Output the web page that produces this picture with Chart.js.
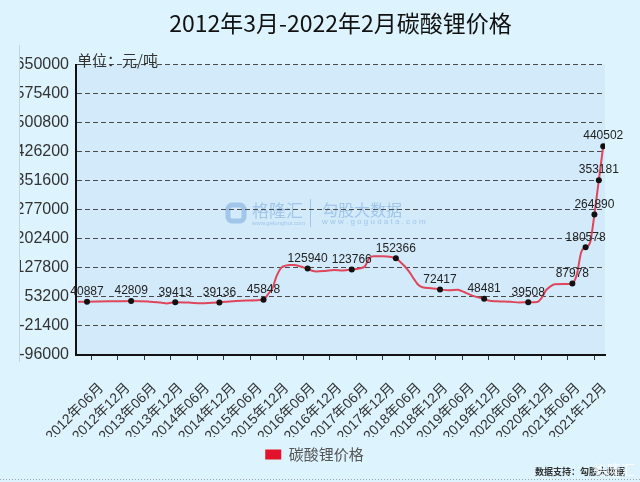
<!DOCTYPE html>
<html lang="zh-CN">
<head>
<meta charset="UTF-8">
<title>2012年3月-2022年2月碳酸锂价格</title>
<script src="https://cdn.jsdelivr.net/npm/chart.js"></script>
<style>
  body { margin: 0; background: #ddf3fd; }
  canvas { display: block; }
</style>
</head>
<body>
<canvas id="priceChart" width="640" height="482"></canvas>
<script>
    // monthly price points (元/吨)
    const months = [
        '2012-03', '2012-05', '2012-10', '2013-03', '2013-07', '2013-10', '2013-11', '2014-01',
        '2014-04', '2014-07', '2014-11', '2015-02', '2015-05', '2015-09', '2015-10', '2015-11',
        '2015-12', '2016-01', '2016-02', '2016-03', '2016-04', '2016-05', '2016-06', '2016-07',
        '2016-08', '2016-09', '2016-11', '2017-01', '2017-03', '2017-05', '2017-07', '2017-08',
        '2017-09', '2017-10', '2017-12', '2018-02', '2018-03', '2018-04', '2018-05', '2018-06',
        '2018-07', '2018-08', '2018-09', '2018-11', '2019-01', '2019-03', '2019-05', '2019-06',
        '2019-07', '2019-09', '2019-11', '2019-12', '2020-02', '2020-05', '2020-07', '2020-09',
        '2020-11', '2020-12', '2021-01', '2021-02', '2021-03', '2021-05', '2021-06', '2021-07',
        '2021-08', '2021-09', '2021-10', '2021-11', '2021-12', '2022-01', '2022-02'
    ];
    const prices = [
        40500, 40887, 41800, 42809, 41200, 38500, 36500, 39413,
        38600, 37000, 39136, 42000, 44000, 45848, 60000, 75000,
        108000, 128000, 133500, 135500, 135000, 132500, 129000, 125940,
        120500, 118500, 120000, 122500, 121000, 123766, 127000, 132000,
        153000, 157500, 157500, 155500, 152366, 143000, 132000, 118000,
        101000, 85000, 78000, 75500, 72417, 70500, 71500, 68000,
        63000, 54000, 48481, 44000, 42000, 40500, 39000, 39508,
        40000, 50000, 70000, 80000, 86000, 86500, 86500, 87978,
        110000, 168000, 180578, 192000, 264890, 353181, 440502
    ];
    // points that carry a marker and a value label
    const labeledMonths = [
        '2012-05', '2013-03', '2014-01', '2014-11', '2015-09', '2016-07', '2017-05', '2018-03',
        '2019-01', '2019-11', '2020-09', '2021-07', '2021-10', '2021-12', '2022-01', '2022-02'
    ];
    const xTickLabels = [
        '2012年06月', '2012年12月', '2013年06月', '2013年12月', '2014年06月', '2014年12月',
        '2015年06月', '2015年12月', '2016年06月', '2016年12月', '2017年06月', '2017年12月',
        '2018年06月', '2018年12月', '2019年06月', '2019年12月', '2020年06月', '2020年12月',
        '2021年06月', '2021年12月'
    ];
    const yTicks = [-96000, -21400, 53200, 127800, 202400, 277000, 351600, 426200, 500800, 575400, 650000];

    const SANS = '"Liberation Sans", Arial, "Noto Sans CJK SC", sans-serif';
    const CJK = '"Noto Sans CJK SC", "Liberation Sans", sans-serif';

    // '2012-03' or '2012年06月' -> months since 2012-03
    function monthIndex(s) {
        const m = s.match(/(\d{4})\D+(\d{1,2})/);
        return (+m[1] - 2012) * 12 + (+m[2] - 3);
    }

    const labeled = new Set(labeledMonths.map(monthIndex));
    const points = months.map((m, i) => ({ x: monthIndex(m), y: prices[i] }));

    const decor = {
        id: 'decor',
        beforeDraw(chart) {
            const { ctx, chartArea: a } = chart;
            ctx.save();
            ctx.fillStyle = '#ddf3fd';
            ctx.fillRect(0, 0, chart.width, chart.height);
            ctx.fillStyle = '#d2eafa';
            ctx.fillRect(a.left, a.top, a.right - a.left, a.bottom - a.top);

            // faint watermark
            ctx.fillStyle = 'rgba(120, 168, 220, 0.55)';
            ctx.strokeStyle = 'rgba(120, 168, 220, 0.55)';
            ctx.lineWidth = 5;
            ctx.beginPath();
            ctx.roundRect(228, 205, 16, 16, 4);
            ctx.stroke();
            ctx.font = '17px ' + CJK;
            ctx.textBaseline = 'middle';
            ctx.fillText('格隆汇', 252, 211);
            ctx.font = '6px ' + SANS;
            ctx.fillText('www.gelonghui.com', 252, 223);
            ctx.lineWidth = 1;
            ctx.beginPath();
            ctx.moveTo(310.5, 199);
            ctx.lineTo(310.5, 227);
            ctx.stroke();
            ctx.font = '16px ' + CJK;
            ctx.fillText('勾股大数据', 322, 210);
            ctx.font = '8px ' + SANS;
            ctx.fillText('w w w . g o g u d a t a . c o m', 322, 222);
            ctx.restore();
        },
        afterDatasetsDraw(chart) {
            const { ctx } = chart;
            const meta = chart.getDatasetMeta(0);
            const data = chart.data.datasets[0].data;
            ctx.save();
            ctx.fillStyle = '#222';
            ctx.font = '12px ' + SANS;
            ctx.textAlign = 'center';
            ctx.textBaseline = 'middle';
            meta.data.forEach((pt, i) => {
                if (!labeled.has(data[i].x)) return;
                ctx.fillText(String(data[i].y), pt.x, pt.y - 10);
            });
            ctx.restore();
        },
        afterDraw(chart) {
            const { ctx, chartArea: a } = chart;
            ctx.save();
            // unit text
            ctx.fillStyle = '#333';
            ctx.font = '15px ' + CJK;
            ctx.textBaseline = 'middle';
            ctx.fillText('单位：元/吨', a.left + 1, 60);
            // left strip clips the y labels
            ctx.fillStyle = '#ddf3fd';
            ctx.fillRect(0, 40, 19, 330);
            ctx.strokeStyle = '#c4d3dc';
            ctx.lineWidth = 1;
            ctx.beginPath();
            ctx.moveTo(19.5, 45);
            ctx.lineTo(19.5, 362);
            ctx.stroke();
            // footer
            ctx.fillStyle = '#333';
            ctx.font = 'bold 9px ' + CJK;
            ctx.fillText('数据支持：勾股大数据', 535, 472);
            ctx.fillStyle = 'rgba(255, 255, 255, 0.8)';
            ctx.font = '14px ' + CJK;
            ctx.fillText('格隆汇', 593, 470);
            ctx.strokeStyle = '#9aa5ab';
            ctx.setLineDash([1, 2]);
            ctx.beginPath();
            ctx.moveTo(0, 479.5);
            ctx.lineTo(640, 479.5);
            ctx.stroke();
            ctx.restore();
        }
    };

    new Chart(document.getElementById('priceChart'), {
        type: 'line',
        data: {
            datasets: [{
                label: '碳酸锂价格',
                data: points,
                borderColor: '#e0465b',
                borderWidth: 2,
                cubicInterpolationMode: 'monotone',
                pointRadius: ctx => labeled.has(ctx.raw.x) ? 3 : 0,
                pointBackgroundColor: '#111',
                pointBorderWidth: 0,
                fill: false
            }]
        },
        options: {
            responsive: false,
            animation: false,
            layout: { padding: { left: 0, right: 11, top: 0, bottom: 10 } },
            scales: {
                x: {
                    type: 'linear',
                    min: -0.5,
                    max: 119.4,
                    afterBuildTicks: s => { s.ticks = xTickLabels.map(l => ({ value: monthIndex(l) })); },
                    afterFit: s => { s.height = 82; },
                    grid: { drawOnChartArea: false, tickLength: 5, color: '#333' },
                    border: { color: '#111', width: 2 },
                    ticks: {
                        autoSkip: false, minRotation: 45, maxRotation: 45, padding: 20, labelOffset: 10,
                        color: '#333', font: { size: 14, family: SANS },
                        callback: (v, i) => xTickLabels[i]
                    }
                },
                y: {
                    min: -96000,
                    max: 650000,
                    afterBuildTicks: s => { s.ticks = yTicks.map(v => ({ value: v })); },
                    afterFit: s => { s.width = 76; },
                    grid: { color: '#4a4a4a', drawTicks: false },
                    border: { color: '#111', width: 2, dash: [5, 3] },
                    ticks: { padding: 7, color: '#333', font: { size: 16, family: SANS }, callback: v => String(v) }
                },
                pad: {
                    position: 'right',
                    afterFit: s => { s.width = 24; },
                    grid: { display: false },
                    border: { display: false },
                    ticks: { display: false }
                }
            },
            plugins: {
                title: {
                    display: true,
                    fullSize: false,
                    text: '2012年3月-2022年2月碳酸锂价格',
                    color: '#111',
                    font: { size: 23, family: CJK, weight: 'normal' },
                    padding: { top: 9, bottom: 28 }
                },
                legend: {
                    position: 'bottom',
                    labels: {
                        boxWidth: 16, boxHeight: 10, padding: 10, color: '#555',
                        font: { size: 15, family: CJK },
                        generateLabels: chart => [{
                            text: chart.data.datasets[0].label,
                            fillStyle: '#e3122b', strokeStyle: '#e3122b', lineWidth: 0,
                            fontColor: '#555', datasetIndex: 0
                        }]
                    }
                },
                tooltip: { enabled: false }
            }
        },
        plugins: [decor]
    });
</script>
</body>
</html>
